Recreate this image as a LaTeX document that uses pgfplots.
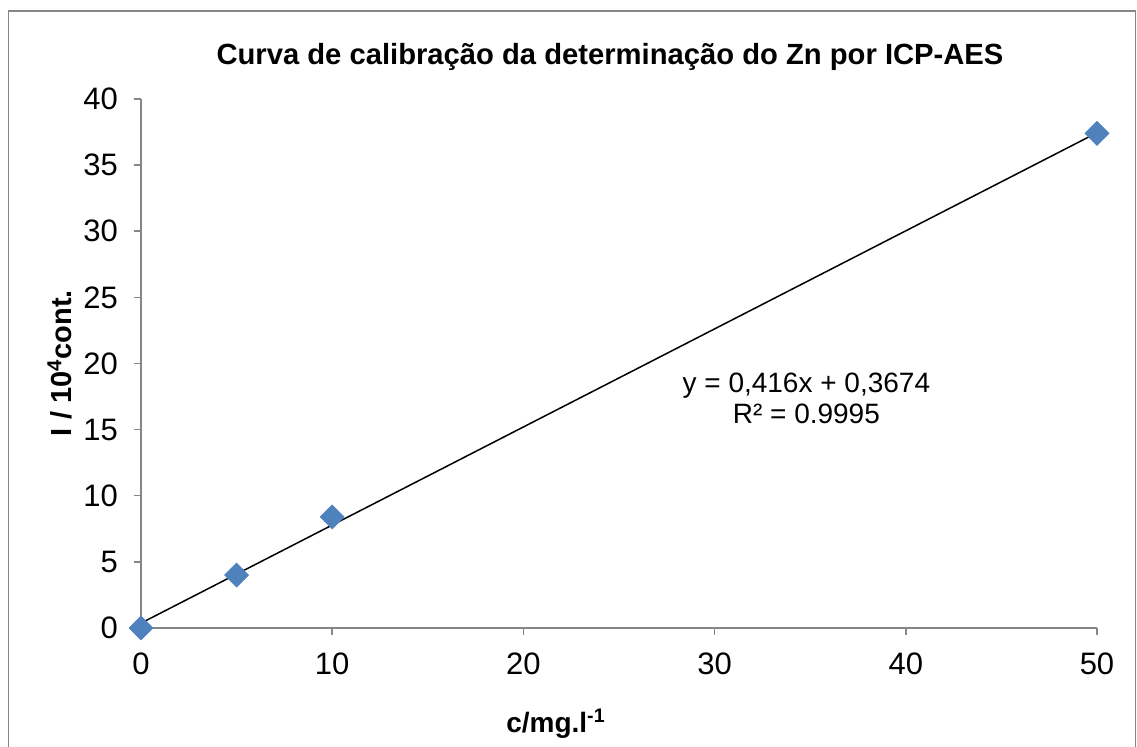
\documentclass[border=0pt]{standalone}
\usepackage{pgfplots}
\pgfplotsset{compat=1.18}
\usepackage{fontspec}
\setmainfont{Liberation Sans}
\definecolor{marker}{HTML}{4F81BD}
\definecolor{axgray}{HTML}{868686}
\begin{document}
\begin{tikzpicture}
\useasboundingbox (0,0) rectangle (568.5pt,373.5pt);
\draw[axgray, line width=0.6pt] (4.2pt,0) -- (4.2pt,368pt) -- (567.8pt,368pt) -- (567.8pt,0);
\begin{axis}[
  at={(70.5pt,59.5pt)}, anchor=south west,
  scale only axis, width=478pt, height=264.5pt,
  xmin=0, xmax=50, ymin=0, ymax=40,
  xtick={0,10,...,50}, ytick={0,5,...,40},
  axis x line*=bottom, axis y line*=left,
  axis line style={-, axgray, line width=0.75pt},
  tick align=outside, major tick length=3.5pt,
  tick style={axgray, line width=0.75pt},
  tick label style={font=\fontsize{15.5}{18}\selectfont},
  yticklabel style={xshift=-4.5pt},
  xticklabel style={yshift=-5.5pt},
  /pgf/number format/assume math mode=true,
  clip=false,
]
\addplot[black, line width=0.75pt] coordinates {(0,0.3674) (50,37.4474)};
\addplot[only marks, mark=square*, mark size=4.2pt, mark options={rotate=45, fill=marker, draw=marker}] coordinates {(0,0) (5,4.0) (10,8.4) (50,37.4)};
\node[align=center, font=\fontsize{14}{15.5}\selectfont] at (axis cs:34.8,17.4) {y = 0,416x + 0,3674\\R² = 0.9995};
\end{axis}
\node[font=\bfseries\fontsize{14.6}{17}\selectfont] at (305pt,345pt) {Curva de calibração da determinação do Zn por ICP-AES};
\node[rotate=90, font=\bfseries\fontsize{14.5}{16}\selectfont] at (30pt,192pt) {I / 10\textsuperscript{4}cont.};
\node[font=\bfseries\fontsize{14}{16}\selectfont] at (278pt,11.5pt) {c/mg.l\textsuperscript{-1}};
\end{tikzpicture}
\end{document}
